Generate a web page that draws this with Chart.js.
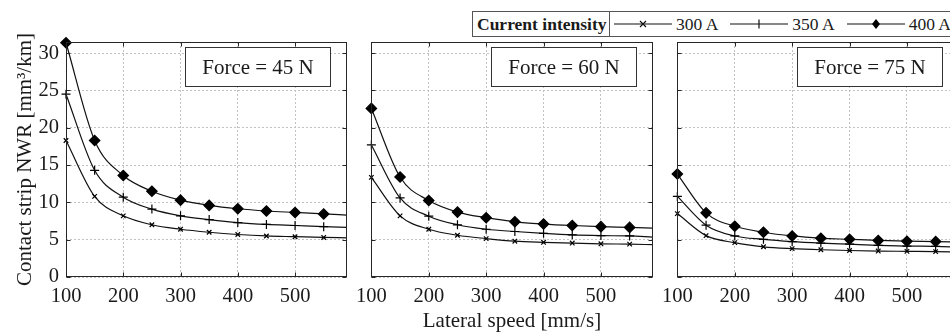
<!DOCTYPE html>
<html>
<head>
<meta charset="utf-8">
<script src="https://cdn.jsdelivr.net/npm/chart.js@4.4.1/dist/chart.umd.min.js"></script>
<style>
  html, body { margin: 0; padding: 0; background: #fff; }
  body { width: 950px; height: 334px; overflow: hidden; position: relative; font-family: "Liberation Serif", serif; color: #1a1a1a; }
  .panel { position: absolute; top: 0; height: 334px; }
  #legend { position: absolute; left: 472px; top: 11px; height: 24px; width: 600px; border: 1px solid #555; background: #fff;
            display: flex; align-items: center; font-size: 17.5px; white-space: nowrap; }
  #legend .title { font-weight: bold; width: 132px; padding-left: 4px; height: 100%; line-height: 24px; border-right: 1px solid #555; }
  #legend .item { display: flex; align-items: center; margin-left: 4px; margin-right: 8px; }
  #legend svg { margin-right: 4px; }
</style>
</head>
<body>
<div class="panel" style="left:0;width:353px"><canvas id="c45" width="353" height="334"></canvas></div>
<div class="panel" style="left:349px;width:310px"><canvas id="c60" width="310" height="334"></canvas></div>
<div class="panel" style="left:655px;width:310px"><canvas id="c75" width="310" height="334"></canvas></div>
<div id="legend">
  <div class="title">Current intensity</div>
  <div class="item"><svg width="58" height="12"><line x1="0" y1="6" x2="58" y2="6" stroke="#111" stroke-width="1.2"/><path d="M26 3 L32 9 M32 3 L26 9" stroke="#111" stroke-width="1.2"/></svg>300 A</div>
  <div class="item"><svg width="58" height="12"><line x1="0" y1="6" x2="58" y2="6" stroke="#111" stroke-width="1.2"/><path d="M29 1.5 L29 10.5" stroke="#111" stroke-width="1.2"/></svg>350 A</div>
  <div class="item"><svg width="58" height="12"><line x1="0" y1="6" x2="58" y2="6" stroke="#111" stroke-width="1.2"/><polygon points="29,1 33,6 29,11 25,6" fill="#000"/></svg>400 A</div>
</div>
<script>
// lateral speed [mm/s]; the last entry is where the fitted curve meets the right edge (no marker there)
const speeds = [100, 150, 200, 250, 300, 350, 400, 450, 500, 550, 590];

// contact strip NWR [mm3/km], force = 45 N
const f45_300 = [18.3, 10.8, 8.2, 7.0, 6.4, 6.0, 5.7, 5.5, 5.4, 5.3, 5.25];
const f45_350 = [24.5, 14.3, 10.7, 9.1, 8.2, 7.7, 7.3, 7.05, 6.9, 6.75, 6.65];
const f45_400 = [31.4, 18.3, 13.6, 11.5, 10.3, 9.6, 9.15, 8.85, 8.65, 8.45, 8.3];

// force = 60 N
const f60_300 = [13.35, 8.2, 6.4, 5.6, 5.15, 4.8, 4.65, 4.55, 4.45, 4.4, 4.33];
const f60_350 = [17.7, 10.6, 8.15, 7.0, 6.4, 6.1, 5.85, 5.65, 5.55, 5.5, 5.35];
const f60_400 = [22.6, 13.4, 10.25, 8.7, 7.95, 7.4, 7.1, 6.9, 6.75, 6.65, 6.55];

// force = 75 N
const f75_300 = [8.5, 5.55, 4.6, 4.05, 3.8, 3.65, 3.55, 3.48, 3.44, 3.4, 3.34];
const f75_350 = [10.8, 6.95, 5.5, 5.05, 4.75, 4.55, 4.4, 4.25, 4.15, 4.1, 4.0];
const f75_400 = [13.8, 8.6, 6.8, 6.0, 5.5, 5.2, 5.05, 4.9, 4.8, 4.75, 4.68];

const currents = ['300 A', '350 A', '400 A'];
const xTickValues = [100, 200, 300, 400, 500];
const yTickValues = [0, 5, 10, 15, 20, 25, 30];
const xRange = [100, 590];
const yRange = [0, 31.5];

const serif = '"Liberation Serif", "Times New Roman", serif';
const textColor = '#1a1a1a';

// MATLAB style frame: box + inward ticks on all sides, plus the "Force = ..." label
const boxFrame = {
  id: 'boxFrame',
  afterDraw(chart, args, opts) {
    const { ctx, chartArea: a, scales: { x, y } } = chart;
    const L = Math.round(a.left) + 0.5, R = Math.round(a.right) - 0.5;
    const T = Math.round(a.top) + 0.5, B = Math.round(a.bottom) - 0.5;
    ctx.save();
    ctx.strokeStyle = '#262626';
    ctx.lineWidth = 1;
    ctx.beginPath();
    x.ticks.forEach(t => {
      const px = Math.round(x.getPixelForValue(t.value)) + 0.5;
      ctx.moveTo(px, B); ctx.lineTo(px, B - 4);
      ctx.moveTo(px, T); ctx.lineTo(px, T + 4);
    });
    y.ticks.forEach(t => {
      const py = Math.round(y.getPixelForValue(t.value)) + 0.5;
      ctx.moveTo(L, py); ctx.lineTo(L + 4, py);
      ctx.moveTo(R, py); ctx.lineTo(R - 4, py);
    });
    ctx.stroke();
    ctx.strokeRect(L, T, R - L, B - T);

    if (opts.text) {
      const w = 145, h = 39;
      const bx = Math.round(a.right - 17 - w) + 0.5, by = Math.round(a.top + 5) + 0.5;
      ctx.fillStyle = '#fff';
      ctx.fillRect(bx, by, w, h);
      ctx.strokeStyle = '#333';
      ctx.strokeRect(bx, by, w, h);
      ctx.fillStyle = textColor;
      ctx.font = '21px ' + serif;
      ctx.textAlign = 'center';
      ctx.textBaseline = 'middle';
      ctx.fillText(opts.text, bx + w / 2, by + h / 2 + 1);
    }
    ctx.restore();
  }
};

const markers = [
  { style: 'crossRot', radius: 3.2 },
  { style: 'cross', radius: 4.5 },
  { style: 'rectRot', radius: 5.2 }
];

function makeDatasets(series) {
  return series.map((vals, k) => ({
    label: currents[k],
    data: speeds.map((s, i) => ({ x: s, y: vals[i] })),
    borderColor: '#111',
    borderWidth: 1.2,
    backgroundColor: '#000',
    pointStyle: markers[k].style,
    pointRadius: ctx => ctx.dataIndex === speeds.length - 1 ? 0 : markers[k].radius,
    pointBackgroundColor: '#000',
    pointBorderColor: '#000',
    pointBorderWidth: 1.2,
    cubicInterpolationMode: 'monotone',
    clip: false,
    fill: false
  }));
}

function makeChart(id, series, force, first, withXTitle) {
  const tickFont = { family: serif, size: 20.5 };
  new Chart(document.getElementById(id), {
    type: 'line',
    data: { datasets: makeDatasets(series) },
    plugins: [boxFrame],
    options: {
      responsive: false,
      animation: false,
      layout: { padding: first ? { left: 0, right: 2, top: 42, bottom: 0 } : { left: 20, right: 3, top: 42, bottom: 0 } },
      plugins: {
        legend: { display: false },
        tooltip: { enabled: false },
        boxFrame: { text: force }
      },
      scales: {
        x: {
          type: 'linear',
          min: xRange[0],
          max: xRange[1],
          afterFit: s => { s.height = 57; },
          afterBuildTicks: s => { s.ticks = xTickValues.map(v => ({ value: v })); },
          ticks: { padding: 7, color: textColor, font: tickFont, maxRotation: 0, autoSkip: false },
          grid: { drawTicks: false, color: '#c2c2c2' },
          border: { display: false, dash: [2, 2] },
          title: {
            display: withXTitle,
            text: 'Lateral speed [mm/s]',
            color: textColor,
            font: { family: serif, size: 21 },
            padding: { top: 0, bottom: 0 }
          }
        },
        y: {
          min: yRange[0],
          max: yRange[1],
          afterFit: s => { s.width = first ? 66 : 0; },
          afterBuildTicks: s => { s.ticks = yTickValues.map(v => ({ value: v })); },
          ticks: { display: first, padding: 7, color: textColor, font: tickFont, autoSkip: false },
          grid: { drawTicks: false, color: '#c2c2c2' },
          border: { display: false, dash: [2, 2] },
          title: {
            display: first,
            text: 'Contact strip NWR [mm³/km]',
            color: textColor,
            font: { family: serif, size: 21 },
            padding: { top: 13, bottom: 0 }
          }
        }
      }
    }
  });
}

makeChart('c45', [f45_300, f45_350, f45_400], 'Force = 45 N', true, false);
makeChart('c60', [f60_300, f60_350, f60_400], 'Force = 60 N', false, true);
makeChart('c75', [f75_300, f75_350, f75_400], 'Force = 75 N', false, false);
</script>
</body>
</html>
